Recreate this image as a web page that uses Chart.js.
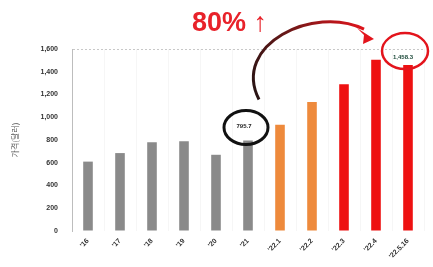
<!DOCTYPE html>
<html>
<head>
<meta charset="utf-8">
<script src="https://cdn.jsdelivr.net/npm/chart.js@4/dist/chart.umd.min.js"></script>
<style>
    html, body { margin: 0; padding: 0; background: #fff; }
    #wrap { width: 433px; height: 267px; }
</style>
</head>
<body>
<div id="wrap"><canvas id="priceChart"></canvas></div>
<script>
const periods = ["'16", "'17", "'18", "'19", "'20", "'21", "'22.1", "'22.2", "'22.3", "'22.4", "'22.5.16"];
const prices = [610, 685, 780, 790, 670, 795.7, 934, 1135, 1291, 1505, 1458.3];
const barColors = ['#8a8a8a', '#8a8a8a', '#8a8a8a', '#8a8a8a', '#8a8a8a', '#8a8a8a',
    '#ee8a3c', '#ee8a3c', '#ee1111', '#ee1111', '#ee1111'];
const yTicks = [0, 200, 400, 600, 800, 1000, 1200, 1400, 1600];
const yTitle = '가격(달러)';
const riseText = '80% ↑';
const fromIndex = 5;
const toIndex = 10;

const fmt = v => v.toLocaleString('en-US', { minimumFractionDigits: 1, maximumFractionDigits: 1 });

// circles, value labels and the curved arrow, placed from the bar elements
const highlightPlugin = {
    id: 'highlight',
    afterDatasetsDraw(chart) {
        const ctx = chart.ctx;
        const bars = chart.getDatasetMeta(0).data;
        const a = bars[fromIndex];
        const b = bars[toIndex];
        ctx.save();

        // value labels
        ctx.font = 'bold 6px "Liberation Sans", Arial';
        ctx.textAlign = 'center';
        ctx.textBaseline = 'middle';
        ctx.fillStyle = '#222';
        ctx.fillText(fmt(prices[fromIndex]), a.x - 4, a.y - 14);
        ctx.fillStyle = '#1d4a3a';
        ctx.fillText(fmt(prices[toIndex]), b.x - 5, b.y - 8);

        // black circle
        ctx.lineWidth = 3;
        ctx.strokeStyle = '#111';
        ctx.beginPath();
        ctx.ellipse(a.x - 2, a.y - 13, 22, 17, 0, 0, Math.PI * 2);
        ctx.stroke();

        // red circle
        ctx.lineWidth = 2.5;
        ctx.strokeStyle = '#e3141c';
        ctx.beginPath();
        ctx.ellipse(b.x - 3, b.y - 14, 23, 18, 0, 0, Math.PI * 2);
        ctx.stroke();

        // curved arrow
        const sx = a.x + 11, sy = a.y - 41;
        const ex = b.x - 36, ey = b.y - 28;
        const grad = ctx.createLinearGradient(sx, sy, ex, ey);
        grad.addColorStop(0, '#2a1414');
        grad.addColorStop(0.45, '#6a1818');
        grad.addColorStop(1, '#e3141c');
        ctx.strokeStyle = grad;
        ctx.lineWidth = 3;
        ctx.beginPath();
        ctx.moveTo(sx, sy);
        ctx.bezierCurveTo(sx - 28, sy - 55, sx + 55, sy - 95, ex - 8, ey - 8);
        ctx.stroke();
        ctx.fillStyle = '#e3141c';
        ctx.beginPath();
        ctx.moveTo(ex + 2, ey + 2);
        ctx.lineTo(ex - 15, ey - 9);
        ctx.lineTo(ex - 8, ey - 2);
        ctx.lineTo(ex - 9, ey + 7);
        ctx.closePath();
        ctx.fill();

        // growth text
        ctx.font = 'bold 27px "Liberation Sans", Arial';
        ctx.textAlign = 'left';
        ctx.textBaseline = 'alphabetic';
        ctx.fillStyle = '#e8222a';
        ctx.fillText(riseText, a.x - 56, 31);
        ctx.restore();
    }
};

document.addEventListener('DOMContentLoaded', () => {
    const ctx = document.getElementById('priceChart').getContext('2d');
    new Chart(ctx, {
        type: 'bar',
        data: {
            labels: periods,
            datasets: [{
                data: prices,
                backgroundColor: barColors,
                barPercentage: 0.3,
                categoryPercentage: 1
            }]
        },
        options: {
            responsive: true,
            maintainAspectRatio: false,
            animation: false,
            layout: { padding: { top: 49, right: 9, left: 6, bottom: 0 } },
            plugins: { legend: { display: false }, tooltip: { enabled: false } },
            scales: {
                x: {
                    grid: { color: '#f6f6f6', drawTicks: false },
                    border: { display: false },
                    ticks: {
                        color: '#333',
                        font: { size: 7, weight: 'bold', family: '"Liberation Sans", Arial' },
                        minRotation: 45,
                        maxRotation: 45,
                        padding: 6
                    },
                    afterFit: s => { s.height = 36; }
                },
                y: {
                    min: 0,
                    max: 1600,
                    afterBuildTicks: s => { s.ticks = yTicks.map(v => ({ value: v })); },
                    grid: {
                        color: c => c.tick && c.tick.value === 1600 ? '#c8c8c8' : 'rgba(0,0,0,0)',
                        drawTicks: false
                    },
                    border: { display: true, color: '#bdbdbd', dash: [2, 2] },
                    ticks: {
                        color: '#333',
                        font: { size: 7, weight: 'bold', family: '"Liberation Sans", Arial' },
                        padding: 14,
                        callback: v => v.toLocaleString('en-US')
                    },
                    title: {
                        display: true,
                        text: yTitle,
                        color: '#555',
                        font: { size: 8, family: '"Noto Sans CJK KR"' },
                        padding: { bottom: 8 }
                    },
                    afterFit: s => { s.width = 66; }
                }
            }
        },
        plugins: [highlightPlugin]
    });
});
</script>
</body>
</html>
